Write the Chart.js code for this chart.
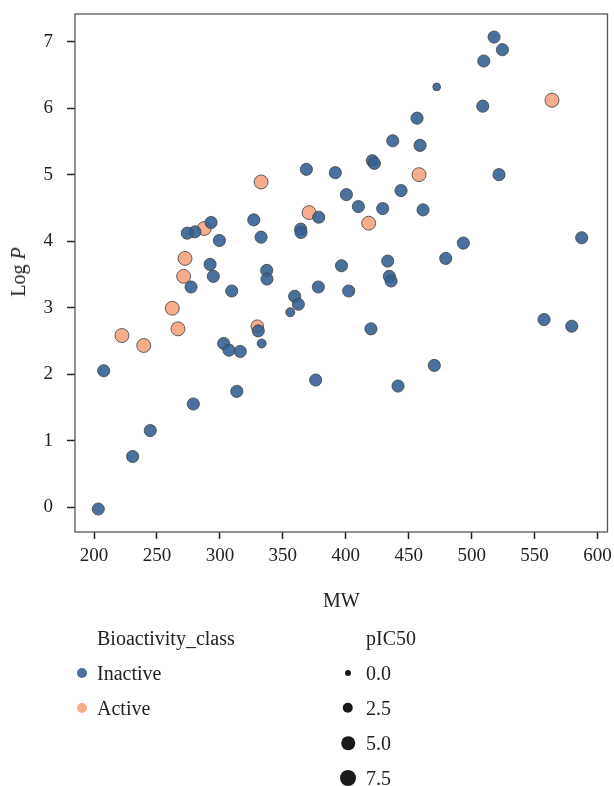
<!DOCTYPE html>
<html>
<head>
<meta charset="utf-8">
<script src="https://cdn.jsdelivr.net/npm/chart.js@4.4.1/dist/chart.umd.min.js"></script>
<style>
  html, body { margin: 0; padding: 0; background: #fff; }
  #wrap { position: relative; width: 614px; height: 786px; font-family: "Liberation Serif", "DejaVu Serif", serif; color: #222; }
  #wrap canvas { position: absolute; left: 0; top: 0; }
  .lbl { position: absolute; font-size: 20px; line-height: 1; white-space: nowrap; transform: translateY(-50%); }
  .dot { position: absolute; border-radius: 50%; transform: translate(-50%, -50%); }
  #ytitle { position: absolute; left: 18px; top: 272px; font-size: 20px; line-height: 1; white-space: nowrap; transform: translate(-50%, -50%) rotate(-90deg); }
</style>
</head>
<body>
<div id="wrap">
  <canvas id="scatter" width="614" height="786"></canvas>
  <div id="ytitle">Log <i>P</i></div>
  <div id="legend"></div>
</div>
<script>
(function(){
  'use strict';

  // Inactive compounds
  var inactiveMW = [368.7, 391.7, 400.5, 378.5, 326.9, 364.2, 364.4, 293.0, 280.2, 274.1,
                    299.6, 332.7, 292.2, 396.6, 337.2, 277.1, 294.8, 337.4, 309.4, 303.0,
                    307.2, 316.2, 330.5, 333.2, 355.9, 359.4, 362.3, 378.2, 402.3, 207.7,
                    278.9, 244.7, 230.7, 203.4, 313.4, 376.1, 434.6, 436.0, 420.0, 470.3,
                    441.5, 557.5, 579.5, 517.8, 524.4, 509.6, 472.2, 508.8, 456.6, 437.3,
                    459.0, 421.1, 422.7, 521.7, 443.9, 410.0, 429.3, 461.4, 587.4, 493.4,
                    479.4, 433.3];
  var inactiveLogP = [5.08, 5.03, 4.70, 4.36, 4.32, 4.18, 4.13, 4.28, 4.14, 4.12,
                      4.01, 4.06, 3.65, 3.63, 3.56, 3.31, 3.47, 3.43, 3.25, 2.46,
                      2.36, 2.34, 2.65, 2.46, 2.93, 3.17, 3.05, 3.31, 3.25, 2.05,
                      1.55, 1.15, 0.76, -0.03, 1.74, 1.91, 3.47, 3.40, 2.68, 2.13,
                      1.82, 2.82, 2.72, 7.07, 6.88, 6.71, 6.32, 6.03, 5.85, 5.51,
                      5.44, 5.21, 5.17, 5.00, 4.76, 4.52, 4.49, 4.47, 4.05, 3.97,
                      3.74, 3.70];
  var inactivePIC50 = [3.8, 3.8, 3.8, 3.8, 3.8, 3.8, 3.8, 3.8, 3.8, 3.8,
                       3.8, 3.8, 3.8, 3.8, 3.8, 3.8, 3.8, 3.8, 3.8, 3.8,
                       3.8, 3.8, 3.8, 1.5, 1.5, 3.8, 3.8, 3.8, 3.8, 3.8,
                       3.8, 3.8, 3.8, 3.8, 3.8, 3.8, 3.8, 3.8, 3.8, 3.8,
                       3.8, 3.8, 3.8, 3.8, 3.8, 3.8, 0.8, 3.8, 3.8, 3.8,
                       3.8, 3.8, 3.8, 3.8, 3.8, 3.8, 3.8, 3.8, 3.8, 3.8,
                       3.8, 3.8];

  // Active compounds
  var activeMW = [332.7, 370.8, 287.6, 272.3, 271.2, 262.2, 266.7, 222.2, 239.5, 329.7, 563.8, 458.2, 418.2];
  var activeLogP = [4.89, 4.43, 4.19, 3.74, 3.47, 2.99, 2.68, 2.58, 2.43, 2.72, 6.12, 5.00, 4.27];
  var activePIC50 = [5.4, 5.4, 5.4, 5.4, 5.4, 5.4, 5.4, 5.4, 5.4, 4.2, 5.4, 5.4, 5.4];

  var mwTicks = [200, 250, 300, 350, 400, 450, 500, 550, 600];
  var logPTicks = [0, 1, 2, 3, 4, 5, 6, 7];
  var classNames = ['Inactive', 'Active'];
  var sizeLegend = [0.0, 2.5, 5.0, 7.5];

  var FONT = '"Liberation Serif", "DejaVu Serif", serif';
  var BLUE = 'rgba(54,96,148,0.9)';
  var ORANGE = 'rgba(245,164,127,0.9)';
  var EDGE = 'rgba(70,70,70,0.85)';

  // marker area grows linearly with pIC50
  function sizeFor(p){ return Math.sqrt(9 + 7.33 * p); }

  function points(xs, ys, ps){
    return xs.map(function(x, i){ return { x: x, y: ys[i], p: ps[i] }; });
  }

  var frame = {
    id: 'frame',
    beforeDatasetsDraw: function(chart){
      var a = chart.chartArea, ctx = chart.ctx;
      ctx.save();
      ctx.strokeStyle = '#555';
      ctx.lineWidth = 1.3;
      ctx.strokeRect(a.left, a.top, a.right - a.left, a.bottom - a.top);
      ctx.restore();
    }
  };

  function radius(ctx){ return ctx.raw ? sizeFor(ctx.raw.p) : 5; }

  new Chart(document.getElementById('scatter'), {
    type: 'scatter',
    data: {
      datasets: [
        { label: classNames[0], data: points(inactiveMW, inactiveLogP, inactivePIC50),
          backgroundColor: BLUE, borderColor: EDGE, borderWidth: 1, pointRadius: radius },
        { label: classNames[1], data: points(activeMW, activeLogP, activePIC50),
          backgroundColor: ORANGE, borderColor: EDGE, borderWidth: 1, pointRadius: radius }
      ]
    },
    options: {
      responsive: false,
      animation: false,
      layout: { autoPadding: false, padding: { top: 14, right: 6.5, bottom: 166, left: 0 } },
      plugins: { legend: { display: false }, tooltip: { enabled: false } },
      scales: {
        x: {
          type: 'linear', min: 184.9, max: 607.9,
          afterBuildTicks: function(s){ s.ticks = mwTicks.map(function(v){ return { value: v }; }); },
          afterFit: function(s){ s.height = 88; s.paddingLeft = 0; s.paddingRight = 0; },
          border: { display: false },
          grid: { drawOnChartArea: false, drawTicks: true, tickLength: 7, tickColor: '#222', tickWidth: 1.5 },
          ticks: { font: { family: FONT, size: 19 }, color: '#222', padding: 6, maxRotation: 0, autoSkip: false },
          title: { display: true, text: 'MW', font: { family: FONT, size: 20 }, color: '#222', padding: { top: 0, bottom: 6 } }
        },
        y: {
          type: 'linear', min: -0.376, max: 7.417,
          afterBuildTicks: function(s){ s.ticks = logPTicks.map(function(v){ return { value: v }; }); },
          afterFit: function(s){ s.width = 75; s.paddingTop = 0; s.paddingBottom = 0; },
          border: { display: false },
          grid: { drawOnChartArea: false, drawTicks: true, tickLength: 8, tickColor: '#222', tickWidth: 1.5 },
          ticks: { font: { family: FONT, size: 19 }, color: '#222', padding: 14, autoSkip: false }
        }
      }
    },
    plugins: [frame]
  });

  // legend below the plot
  var legend = document.getElementById('legend');
  function addText(txt, x, y){
    var d = document.createElement('div');
    d.className = 'lbl';
    d.style.left = x + 'px';
    d.style.top = y + 'px';
    d.textContent = txt;
    legend.appendChild(d);
  }
  function addDot(x, y, r, color){
    var d = document.createElement('div');
    d.className = 'dot';
    d.style.left = x + 'px';
    d.style.top = y + 'px';
    d.style.width = (2 * r) + 'px';
    d.style.height = (2 * r) + 'px';
    d.style.background = color;
    legend.appendChild(d);
  }

  addText('Bioactivity_class', 97, 638);
  [BLUE, ORANGE].forEach(function(c, i){
    var y = 673 + i * 34.5;
    addDot(82, y, 5, c);
    addText(classNames[i], 97, y);
  });

  addText('pIC50', 366, 638);
  sizeLegend.forEach(function(p, i){
    var y = 673 + i * 35;
    addDot(348, y, sizeFor(p), '#1a1a1a');
    addText(p.toFixed(1), 366, y);
  });
})();
</script>
</body>
</html>
